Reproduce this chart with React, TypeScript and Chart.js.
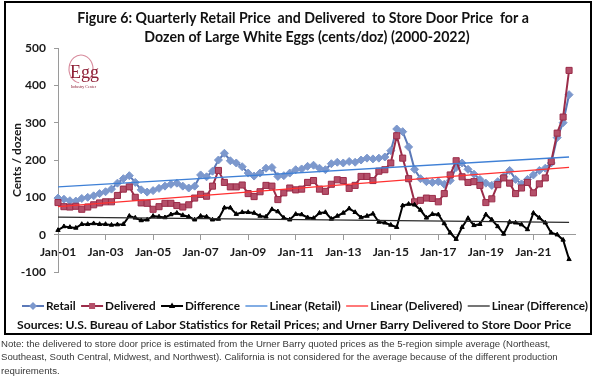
import React, { useEffect, useRef } from "react";
import { Chart, registerables } from "chart.js";

Chart.register(...registerables);

// ---------- data ----------
const years = [2001, 2002, 2003, 2004, 2005, 2006, 2007, 2008, 2009, 2010, 2011, 2012, 2013, 2014, 2015, 2016, 2017, 2018, 2019, 2020, 2021, 2022];
const quarterMonths = ["Jan", "Apr", "Jul", "Oct"];
const categories = years.flatMap((y) => quarterMonths.map((m) => `${m}-${String(y).slice(2)}`));

const retail = [
  98, 95, 91, 90, 97, 100, 104, 110, 115, 122, 138, 150, 158, 140, 120, 114,
  118, 124, 130, 135, 138, 130, 125, 130, 160, 155, 170, 200, 218, 198, 192, 182,
  165, 157, 165, 178, 180, 156, 158, 165, 174, 176, 183, 186, 178, 174, 190, 194,
  192, 196, 194, 200, 205, 203, 205, 208, 225, 283, 276, 235, 175, 150, 142, 140,
  142, 135, 145, 180, 192, 175, 162, 148, 138, 132, 142, 155, 172, 148, 136, 148,
  160, 172, 178, 192, 260, 300, 375,
];
const delivered = [
  86, 75, 74, 76, 68, 74, 80, 85, 88, 88, 105, 122, 128, 100, 85, 84,
  68, 75, 84, 84, 78, 74, 80, 98, 108, 103, 130, 172, 140, 128, 128, 133,
  110, 102, 115, 132, 130, 94, 112, 125, 120, 122, 140, 145, 122, 116, 135, 147,
  145, 124, 132, 156, 156, 145, 170, 174, 192, 265, 205, 150, 88, 92, 98, 97,
  88, 110, 160, 198, 155, 140, 142, 132, 86, 96, 134, 152, 138, 110, 125, 140,
  112, 136, 152, 196, 272, 315, 440,
];
const difference = [
  12, 22, 20, 18, 28, 28, 30, 28, 28, 26, 27, 28, 50, 45, 38, 40,
  50, 48, 46, 54, 58, 52, 48, 40, 50, 48, 40, 42, 72, 72, 55, 60,
  60, 58, 50, 48, 68, 62, 45, 40, 55, 54, 46, 44, 58, 60, 42, 50,
  58, 70, 60, 46, 50, 56, 34, 32, 26, 20, 78, 82, 80, 66, 45, 55,
  54, 30, 5, -12, 20, 44, 25, 28, 54, 40, 22, 2, 34, 32, 27, 14,
  58, 45, 32, 5, 0, -14, -66,
];
// linear trend lines: [value at first quarter, value at last quarter]
const retailTrend = [128, 208];
const deliveredTrend = [75, 180];
const differenceTrend = [47, 33];

const yMin = -100;
const yMax = 500;
const yStep = 100;
const xLabelEvery = 8;

const titleLines = [
  "Figure 6: Quarterly Retail Price  and Delivered  to Store Door Price  for a",
  "Dozen of Large White Eggs (cents/doz) (2000-2022)",
];
const sourcesText = "Sources: U.S. Bureau of Labor Statistics for Retail Prices; and Urner Barry Delivered to Store Door Price";
const yTitle = "Cents / dozen";

// ---------- styles ----------
const FONT = "Lato, 'Open Sans', 'DejaVu Sans', sans-serif";
const RETAIL_LINE = "#5b79b8";
const RETAIL_PT = "#7c98cd";
const DELIV_LINE = "#9b2c49";
const DELIV_PT = "#b4506a";
const DIFF_LINE = "#000000";
const RT_LINE = "#3f80d6";
const DT_LINE = "#ff3030";
const FT_LINE = "#2a2a2a";
const AXIS = "#9a9a9a";

type LegendItem = { label: string; color: string; width: number; marker: string | null; fill: string };
const legendItems: LegendItem[] = [
  { label: "Retail", color: RETAIL_LINE, width: 2, marker: "diamond", fill: RETAIL_PT },
  { label: "Delivered", color: DELIV_LINE, width: 2, marker: "square", fill: DELIV_PT },
  { label: "Difference", color: DIFF_LINE, width: 2, marker: "triangle", fill: DIFF_LINE },
  { label: "Linear (Retail)", color: RT_LINE, width: 1.3, marker: null, fill: RT_LINE },
  { label: "Linear (Delivered)", color: DT_LINE, width: 1.3, marker: null, fill: DT_LINE },
  { label: "Linear (Difference)", color: FT_LINE, width: 1.3, marker: null, fill: FT_LINE },
];

function drawMarker(ctx: CanvasRenderingContext2D, kind: string, x: number, y: number, fill: string) {
  ctx.fillStyle = fill;
  ctx.beginPath();
  if (kind === "diamond") {
    const r = 4;
    ctx.moveTo(x, y - r);
    ctx.lineTo(x + r, y);
    ctx.lineTo(x, y + r);
    ctx.lineTo(x - r, y);
    ctx.closePath();
    ctx.fill();
  } else if (kind === "square") {
    ctx.rect(x - 3, y - 3, 6, 6);
    ctx.fill();
  } else if (kind === "triangle") {
    const r = 3.5;
    ctx.moveTo(x, y - r);
    ctx.lineTo(x + r * 0.9, y + r * 0.6);
    ctx.lineTo(x - r * 0.9, y + r * 0.6);
    ctx.closePath();
    ctx.fill();
  }
}

const decorPlugin = {
  id: "decor",
  beforeDraw(chart: any) {
    const ctx: CanvasRenderingContext2D = chart.ctx;
    ctx.save();
    ctx.fillStyle = "#ffffff";
    ctx.fillRect(0, 0, chart.width, chart.height);
    // Egg logo
    ctx.strokeStyle = "#d7899b";
    ctx.lineWidth = 1.1;
    ctx.beginPath();
    ctx.ellipse(81, 69, 12, 14, 0, 0.55 * Math.PI, 2.25 * Math.PI);
    ctx.stroke();
    ctx.fillStyle = "#8e1f36";
    ctx.font = "18px 'Liberation Serif', 'DejaVu Serif', serif";
    ctx.textAlign = "left";
    ctx.textBaseline = "alphabetic";
    ctx.fillText("Egg", 70, 78);
    ctx.font = "4px 'Liberation Serif', serif";
    ctx.fillText("Industry Center", 71, 88);
    ctx.restore();
  },
  afterDraw(chart: any) {
    const ctx: CanvasRenderingContext2D = chart.ctx;
    ctx.save();
    // outer frame
    ctx.strokeStyle = "#000";
    ctx.lineWidth = 2;
    ctx.strokeRect(5, 2, 586, 332);

    // title
    ctx.fillStyle = "#111";
    ctx.textAlign = "center";
    ctx.textBaseline = "middle";
    ctx.font = `bold 13px ${FONT}`;
    const w1 = ctx.measureText(titleLines[0]).width;
    const tSize = (13 * 452) / w1;
    ctx.font = `bold ${tSize}px ${FONT}`;
    ctx.fillText(titleLines[0], 303, 18);
    ctx.fillText(titleLines[1], 307, 37);

    // legend
    const legY = 306;
    let lSize = 12;
    ctx.font = `bold ${lSize}px ${FONT}`;
    const lineLen = 22;
    let widths = legendItems.map((it) => lineLen + 2 + ctx.measureText(it.label).width);
    let sum = widths.reduce((a, b) => a + b, 0);
    const span = 566;
    let gap = (span - sum) / (legendItems.length - 1);
    if (gap < 6) {
      lSize = (lSize * (span - 6 * (legendItems.length - 1))) / sum;
      ctx.font = `bold ${lSize}px ${FONT}`;
      widths = legendItems.map((it) => lineLen + 2 + ctx.measureText(it.label).width);
      sum = widths.reduce((a, b) => a + b, 0);
      gap = (span - sum) / (legendItems.length - 1);
    }
    let lx = 22;
    ctx.textAlign = "left";
    legendItems.forEach((it, i) => {
      ctx.strokeStyle = it.color;
      ctx.lineWidth = it.width;
      ctx.beginPath();
      ctx.moveTo(lx, legY);
      ctx.lineTo(lx + lineLen, legY);
      ctx.stroke();
      if (it.marker) drawMarker(ctx, it.marker, lx + lineLen / 2, legY, it.fill);
      ctx.fillStyle = "#111";
      ctx.fillText(it.label, lx + lineLen + 2, legY + 0.5);
      lx += widths[i] + gap;
    });

    // sources
    ctx.font = `bold 12px ${FONT}`;
    const ws = ctx.measureText(sourcesText).width;
    ctx.font = `bold ${(12 * 555) / ws}px ${FONT}`;
    ctx.fillText(sourcesText, 17, 325);
    ctx.restore();
  },
};

export default function App() {
  const ref = useRef<HTMLCanvasElement>(null);
  useEffect(() => {
    const canvas = ref.current!;
    const n = retail.length;
    const trend = (pair: number[]) => retail.map((_, i) => (i === 0 ? pair[0] : i === n - 1 ? pair[1] : null));
    const chart = new Chart(canvas, {
      type: "line",
      data: {
        labels: categories,
        datasets: [
          {
            label: "Retail",
            data: retail,
            borderColor: RETAIL_LINE,
            borderWidth: 2,
            pointStyle: "rectRot",
            pointRadius: 4,
            pointBackgroundColor: RETAIL_PT,
            pointBorderColor: RETAIL_PT,
            pointBorderWidth: 1,
            order: 3,
          },
          {
            label: "Delivered",
            data: delivered,
            borderColor: DELIV_LINE,
            borderWidth: 2,
            pointStyle: "rect",
            pointRadius: 4.3,
            pointBackgroundColor: DELIV_PT,
            pointBorderColor: DELIV_LINE,
            pointBorderWidth: 1,
            order: 2,
          },
          {
            label: "Difference",
            data: difference,
            borderColor: DIFF_LINE,
            borderWidth: 2,
            pointStyle: "triangle",
            pointRadius: 2.5,
            pointBackgroundColor: DIFF_LINE,
            pointBorderColor: DIFF_LINE,
            pointBorderWidth: 1,
            order: 1,
          },
          {
            label: "Linear (Retail)",
            data: trend(retailTrend),
            borderColor: RT_LINE,
            borderWidth: 1.3,
            pointRadius: 0,
            spanGaps: true,
            order: 0,
          },
          {
            label: "Linear (Delivered)",
            data: trend(deliveredTrend),
            borderColor: DT_LINE,
            borderWidth: 1.3,
            pointRadius: 0,
            spanGaps: true,
            order: 0,
          },
          {
            label: "Linear (Difference)",
            data: trend(differenceTrend),
            borderColor: FT_LINE,
            borderWidth: 1.2,
            pointRadius: 0,
            spanGaps: true,
            order: 0,
          },
        ],
      },
      options: {
        responsive: false,
        animation: false,
        devicePixelRatio: 1,
        layout: { padding: { left: 0, top: 48, right: 25, bottom: 108 } },
        elements: { line: { tension: 0 } },
        plugins: {
          legend: { display: false },
          tooltip: { enabled: false },
          title: { display: false },
        },
        scales: {
          x: {
            type: "category",
            position: { y: 0 } as any,
            offset: false,
            grid: { display: true, drawOnChartArea: false, drawTicks: true, tickLength: 5, color: AXIS },
            border: { display: true, color: AXIS, width: 1 },
            ticks: {
              autoSkip: false,
              maxRotation: 0,
              minRotation: 0,
              padding: 5,
              color: "#1a1a1a",
              font: { family: FONT, size: 12, weight: "bold" },
              callback: (_v: any, i: number) => (i % xLabelEvery === 0 ? categories[i] : null),
            },
          },
          y: {
            min: yMin,
            max: yMax,
            grid: { display: true, drawOnChartArea: false, drawTicks: true, tickLength: 4, color: AXIS },
            border: { display: true, color: AXIS, width: 1 },
            ticks: {
              stepSize: yStep,
              padding: 8,
              color: "#1a1a1a",
              font: { family: FONT, size: 12, weight: "bold" },
            },
            title: {
              display: true,
              text: yTitle,
              color: "#1a1a1a",
              font: { family: FONT, size: 12, weight: "bold" },
              padding: { top: 10, bottom: 0 },
            },
            afterFit: (s: any) => {
              s.width = 58;
            },
          },
        },
      },
      plugins: [decorPlugin],
    } as any);
    return () => chart.destroy();
  }, []);

  return (
    <div style={{ position: "absolute", left: 0, top: 0, width: 600, height: 380, background: "#fff", overflow: "hidden" }}>
      <canvas ref={ref} width={600} height={380} style={{ position: "absolute", left: 0, top: 0, width: 600, height: 380 }} />
      <div
        style={{
          position: "absolute",
          left: 1,
          top: 337,
          width: 598,
          fontFamily: "'Liberation Sans', Arial, sans-serif",
          fontSize: "9.6px",
          lineHeight: "13.3px",
          color: "#3a3a3a",
          whiteSpace: "nowrap",
        }}
      >
        Note: the delivered to store door price is estimated from the Urner Barry quoted prices as the 5-region simple average (Northeast,
        <br />
        Southeast, South Central, Midwest, and Northwest). California is not considered for the average because of the different production
        <br />
        requirements.
      </div>
    </div>
  );
}
